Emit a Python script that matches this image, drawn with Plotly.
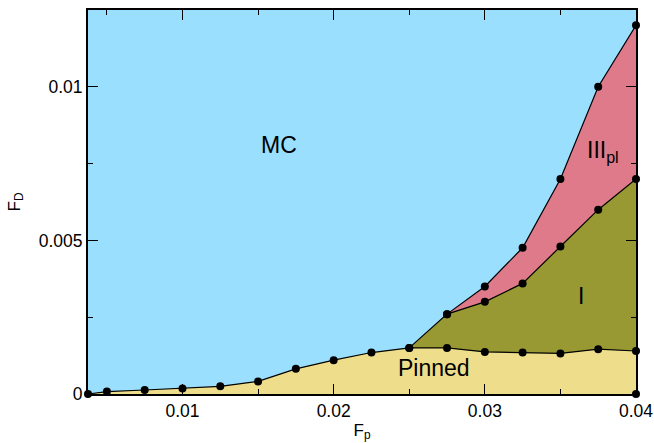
import plotly.graph_objects as go

# Phase boundaries in the (F_p, F_D) plane
fp_pin = [0.00375, 0.005, 0.0075, 0.01, 0.0125, 0.015, 0.0175, 0.02, 0.0225,
          0.025, 0.0275, 0.03, 0.0325, 0.035, 0.0375, 0.04]
fd_pin = [0.0, 0.00008, 0.00013, 0.00018, 0.00025, 0.00041, 0.00082, 0.0011,
          0.00135, 0.0015, 0.0015, 0.00137, 0.00135, 0.00132, 0.00146, 0.0014]

fp_I = [0.025, 0.0275, 0.03, 0.0325, 0.035, 0.0375, 0.04]
fd_I = [0.0015, 0.0026, 0.0030, 0.0036, 0.0048, 0.0060, 0.0070]

fp_III = [0.0275, 0.03, 0.0325, 0.035, 0.0375, 0.04]
fd_III = [0.0026, 0.0035, 0.00476, 0.0070, 0.0100, 0.0120]

fp_corner = [0.04]
fd_corner = [0.0]

x_tickvals = [0.01, 0.02, 0.03, 0.04]
x_ticktext = ["0.01", "0.02", "0.03", "0.04"]
y_tickvals = [0.0, 0.005, 0.01]
y_ticktext = ["0", "0.005", "0.01"]
x_minor = [0.005, 0.015, 0.025, 0.035]
y_minor = [0.0025, 0.0075]

# Region labels: text, F_p, F_D
region_labels = [
    ("MC", 0.0164, 0.0081),
    ("III<sub>pl</sub>", 0.0378, 0.0079),
    ("I", 0.03635, 0.0032),
    ("Pinned", 0.02665, 0.00084),
]

C_MC = "#9BDFFE"
C_PIN = "#EEDE8C"
C_I = "#989933"
C_III = "#DF7A8A"
FONT = "Liberation Sans"

fig = go.Figure()

# Pinned region: below the depinning curve
fig.add_trace(go.Scatter(x=fp_pin, y=fd_pin, mode="none", fill="tozeroy",
                         fillcolor=C_PIN, hoverinfo="skip"))

# Phase I: between pinned curve and the I boundary
k0 = fp_pin.index(fp_I[0])
poly_I_x = fp_I + fp_pin[k0:][::-1]
poly_I_y = fd_I + fd_pin[k0:][::-1]
fig.add_trace(go.Scatter(x=poly_I_x, y=poly_I_y, mode="none", fill="toself",
                         fillcolor=C_I, hoverinfo="skip"))

# Phase III_pl: between the I boundary and the MC boundary
k1 = fp_I.index(fp_III[0])
poly_III_x = fp_III + fp_I[k1:][::-1]
poly_III_y = fd_III + fd_I[k1:][::-1]
fig.add_trace(go.Scatter(x=poly_III_x, y=poly_III_y, mode="none", fill="toself",
                         fillcolor=C_III, hoverinfo="skip"))

# Boundary curves with measured points
line_style = dict(color="black", width=1.2)
marker_style = dict(color="black", size=8)
for xs, ys in [(fp_pin, fd_pin), (fp_I, fd_I), (fp_III, fd_III)]:
    fig.add_trace(go.Scatter(x=xs, y=ys, mode="lines+markers", line=line_style,
                             marker=marker_style, cliponaxis=False))
fig.add_trace(go.Scatter(x=fp_corner, y=fd_corner, mode="markers",
                         marker=marker_style, cliponaxis=False))

for text, xv, yv in region_labels:
    fig.add_annotation(x=xv, y=yv, text=text, showarrow=False,
                       font=dict(family=FONT, size=23, color="black"))

axis_common = dict(
    showline=True, linecolor="black", linewidth=2, mirror="allticks",
    ticks="inside", ticklen=10, tickwidth=1.2, tickcolor="black",
    showgrid=False, zeroline=False, layer="above traces", automargin=False,
    tickfont=dict(family=FONT, size=17.5, color="black"),
)

fig.update_xaxes(
    range=[0.00375, 0.04], tickmode="array", tickvals=x_tickvals, ticktext=x_ticktext,
    minor=dict(ticks="inside", ticklen=5, tickwidth=1.2, tickcolor="black",
               tickmode="array", tickvals=x_minor, showgrid=False),
    title=dict(text="F<sub>p</sub>", font=dict(family=FONT, size=17, color="black"),
               standoff=4),
    **axis_common,
)
fig.update_yaxes(
    range=[0, 0.0125], tickmode="array", tickvals=y_tickvals, ticktext=y_ticktext,
    minor=dict(ticks="inside", ticklen=5, tickwidth=1.2, tickcolor="black",
               tickmode="array", tickvals=y_minor, showgrid=False),
    title=dict(text="F<sub>D</sub>", font=dict(family=FONT, size=17, color="black"),
               standoff=14),
    **axis_common,
)

fig.update_layout(
    width=654, height=443,
    margin=dict(l=88, r=18, t=10, b=49),
    plot_bgcolor=C_MC, paper_bgcolor="white",
    showlegend=False,
)

fig.write_html("out.html")
